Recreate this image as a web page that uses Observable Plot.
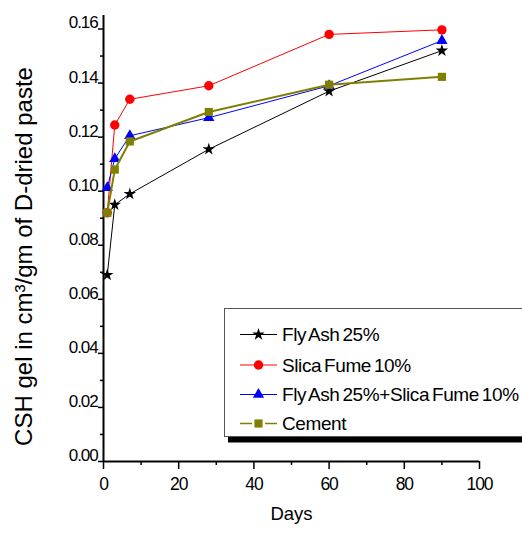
<!DOCTYPE html>
<html><head><meta charset="utf-8">
<script src="https://cdn.jsdelivr.net/npm/d3@7"></script>
<script src="https://cdn.jsdelivr.net/npm/@observablehq/plot@0.6"></script>
<style>
body{margin:0;background:#fff}
svg{font-family:"Liberation Sans",Arial,sans-serif}
g[aria-label="y-axis tick label"] text, g[aria-label="x-axis tick label"] text{letter-spacing:-1.1px}
.leg text{letter-spacing:-0.4px;word-spacing:-2px}
</style>
</head><body><div id="chart"></div>
<script>
const days = [1, 3, 7, 28, 60, 90];
const flyAsh = [0.069, 0.095, 0.099, 0.1155, 0.137, 0.152];
const silicaFume = [0.092, 0.1245, 0.134, 0.139, 0.158, 0.1597];
const flyAshSilica = [0.1013, 0.112, 0.1205, 0.1272, 0.139, 0.1557];
const cement = [0.092, 0.108, 0.1184, 0.1293, 0.1394, 0.1423];
const seriesNames = ["Fly Ash 25%", "Slica Fume 10%", "Fly Ash 25%+Slica Fume 10%", "Cement"];
const yTicks = [0, 0.02, 0.04, 0.06, 0.08, 0.10, 0.12, 0.14, 0.16];
const yMinor = [0.01, 0.03, 0.05, 0.07, 0.09, 0.11, 0.13, 0.15];
const xTicks = [0, 20, 40, 60, 80, 100];
const xMinor = [10, 30, 50, 70, 90];
const xLabel = "Days";
const yLabel = "CSH gel in cm³/gm of D-dried paste";

const styles = [
  {values: flyAsh, color: "#000000", symbol: "star", r: 3.9, sw: 1},
  {values: silicaFume, color: "#ff0000", symbol: "circle", r: 4.7, sw: 1},
  {values: flyAshSilica, color: "#0000ff", symbol: "triangle", r: 4.2, sw: 1},
  {values: cement, color: "#808000", symbol: "square", r: 4.6, sw: 2}
];

const marks = [];
styles.forEach((s, i) => {
  const data = days.map((d, j) => ({day: d, value: s.values[j], name: seriesNames[i]}));
  marks.push(Plot.line(data, {x: "day", y: "value", stroke: s.color, strokeWidth: s.sw}));
  marks.push(Plot.dot(data, {x: "day", y: "value", symbol: () => s.symbol, fill: s.color, stroke: "none", r: s.r}));
});

const chart = Plot.plot({
  width: 522, height: 536,
  marginLeft: 103, marginRight: 43, marginTop: 15, marginBottom: 75,
  x: {domain: [0, 100]},
  y: {domain: [0, 0.165]},
  marks: [
    Plot.axisY({ticks: yTicks, tickSize: 5, tickFormat: () => "", label: null, strokeWidth: 1.5}),
    Plot.axisY({ticks: yMinor, tickSize: 3, tickFormat: () => "", label: null, strokeWidth: 1.5}),
    Plot.axisY({ticks: yTicks, tickSize: 0, tickPadding: 6, tickFormat: d3.format(".2f"), fontSize: 17, dy: -6, label: null}),
    Plot.axisX({ticks: xTicks, tickSize: 8, tickPadding: 8, fontSize: 17.5, label: null, strokeWidth: 1.5}),
    Plot.axisX({ticks: xMinor, tickSize: 4, tickFormat: () => "", label: null, strokeWidth: 1.5}),
    Plot.ruleX([0], {strokeWidth: 2}),
    Plot.ruleY([0], {strokeWidth: 2}),
    ...marks,
    Plot.text([xLabel], {text: d => d, frameAnchor: "bottom", dy: 58, fontSize: 18.5}),
    Plot.text([yLabel], {text: d => d, frameAnchor: "left", textAnchor: "middle", lineAnchor: "middle", rotate: -90, dx: -79, dy: 18, fontSize: 24})
  ]
});
document.getElementById("chart").appendChild(chart);

// Legend box inside the plot area
const svg = d3.select(chart);
const leg = svg.append("g").attr("class", "leg");
leg.append("rect").attr("x", 228).attr("y", 436.5).attr("width", 400).attr("height", 6).attr("fill", "#000");
leg.append("rect").attr("x", 224.5).attr("y", 308.5).attr("width", 400).attr("height", 128)
  .attr("fill", "#fff").attr("stroke", "#555").attr("stroke-width", 1);
const rowY = [334.5, 365, 394.5, 423.5];
const symMap = {star: d3.symbolStar, circle: d3.symbolCircle, triangle: d3.symbolTriangle, square: d3.symbolSquare};
styles.forEach((s, i) => {
  const y = rowY[i];
  if (s.symbol === "square") {
    leg.append("line").attr("x1", 240).attr("x2", 252).attr("y1", y).attr("y2", y).attr("stroke", s.color).attr("stroke-width", 1.5);
    leg.append("line").attr("x1", 265).attr("x2", 277).attr("y1", y).attr("y2", y).attr("stroke", s.color).attr("stroke-width", 1.5);
  } else {
    leg.append("line").attr("x1", 240).attr("x2", 277).attr("y1", y).attr("y2", y).attr("stroke", s.color).attr("stroke-width", s.sw);
  }
  leg.append("path").attr("transform", `translate(258.5,${y})`)
    .attr("d", d3.symbol().type(symMap[s.symbol]).size(Math.PI * s.r * s.r)()).attr("fill", s.color);
  leg.append("text").attr("x", 282).attr("y", y).attr("dy", "0.36em").attr("font-size", 19)
    .attr("text-anchor", "start").attr("fill", "#000").text(seriesNames[i]);
});
</script>
</body></html>
